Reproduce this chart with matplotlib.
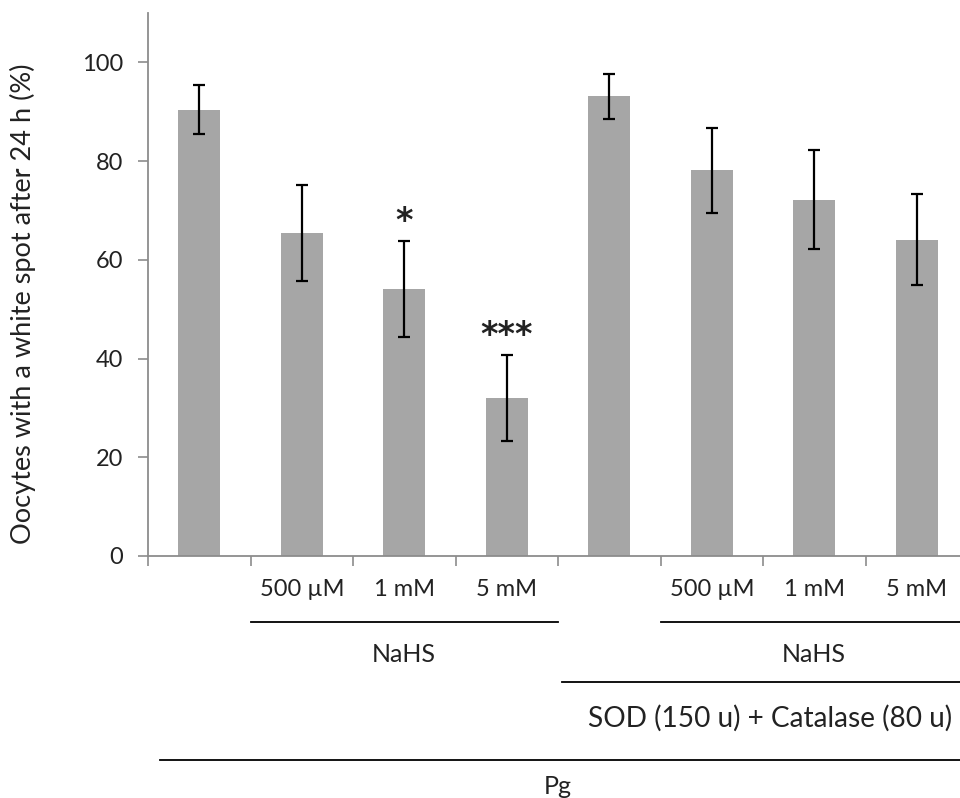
import matplotlib
matplotlib.use("Agg")
import matplotlib.pyplot as plt
import numpy as np

plt.rcParams['font.family'] = ['Lato', 'DejaVu Sans']

categories = ["", "500 µM", "1 mM", "5 mM", "", "500 µM", "1 mM", "5 mM"]
values = [90.4, 65.5, 54.1, 32.0, 93.1, 78.1, 72.2, 64.1]
errors = [5.0, 9.7, 9.7, 8.8, 4.5, 8.7, 10.0, 9.2]
stars = ["", "", "*", "***", "", "", "", ""]
yticks = [0, 20, 40, 60, 80, 100]
ylabel = "Oocytes with a white spot after 24 h (%)"

fig = plt.figure(figsize=(9.6, 7.98), dpi=100)
ax = fig.add_axes([148/960, (798-556)/798, 820/960, 543/798])

x = np.arange(len(values))
ax.bar(x, values, width=0.41, color='#a6a6a6', zorder=2)
ax.errorbar(x, values, yerr=errors, fmt='none', ecolor='black', elinewidth=1.6,
            capsize=4, capthick=1.6, zorder=3)
for xi, v, e, s in zip(x, values, errors, stars):
    if s:
        ax.text(xi, v + e + 2.0, s, ha='center', va='baseline', fontsize=24,
                fontweight='bold', color='#222222', family='DejaVu Sans')

ax.set_xlim(-0.5, 7.5)
ax.set_ylim(0, 110)
ax.set_yticks(yticks)
ax.tick_params(axis='y', labelsize=17, length=7, width=1.2, color='#8c8c8c', pad=11,
               labelcolor='#222222')
ax.set_xticks(np.arange(-0.5, 7.6, 1.0))
ax.set_xticklabels([])
ax.tick_params(axis='x', length=7, width=1.2, color='#8c8c8c')
for sp in ['top', 'right']:
    ax.spines[sp].set_visible(False)
for sp in ['left', 'bottom']:
    ax.spines[sp].set_color('#8c8c8c')
    ax.spines[sp].set_linewidth(1.3)

ax.set_ylabel(ylabel, fontsize=19.5, color='#222222')
ax.yaxis.set_label_coords(-0.136, 0.465)

tr = ax.get_xaxis_transform()
def yf(py):
    return (556 - py) / 543.0

for xi, c in zip(x, categories):
    if c:
        ax.text(xi, yf(590), c, transform=tr, ha='center', va='center',
                fontsize=17, color='#222222', clip_on=False)

line_kw = dict(transform=tr, color='black', lw=1.3, clip_on=False)
ax.plot([0.5, 3.5], [yf(622)] * 2, **line_kw)
ax.plot([4.5, 7.6], [yf(622)] * 2, **line_kw)
ax.plot([3.54, 7.6], [yf(682)] * 2, **line_kw)
ax.plot([-0.38, 7.6], [yf(760)] * 2, **line_kw)

ax.text(2.0, yf(655), "NaHS", transform=tr, ha='center', va='center', fontsize=18, color='#222222')
ax.text(6.0, yf(655), "NaHS", transform=tr, ha='center', va='center', fontsize=18, color='#222222')
ax.text(5.57, yf(718), "SOD (150 u) + Catalase (80 u)", transform=tr, ha='center', va='center',
        fontsize=20.2, color='#222222')
ax.text(3.5, yf(786), "Pg", transform=tr, ha='center', va='center', fontsize=18, color='#222222')

fig.savefig("out.png", dpi=100)
